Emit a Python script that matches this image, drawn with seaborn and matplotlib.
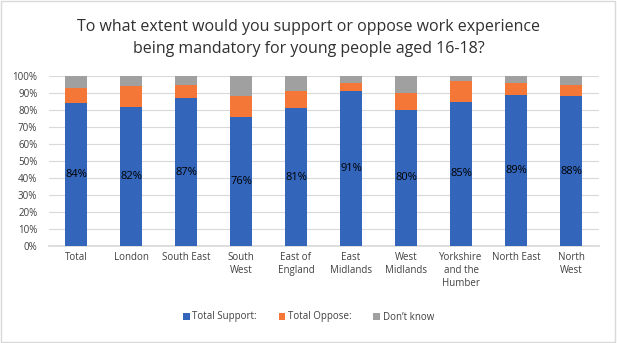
import numpy as np
import pandas as pd
import matplotlib
matplotlib.use("Agg")
import matplotlib.pyplot as plt
import seaborn as sns
from matplotlib.patches import Rectangle

categories = ["Total", "London", "South East", "South\nWest", "East of\nEngland",
              "East\nMidlands", "West\nMidlands", "Yorkshire\nand the\nHumber",
              "North East", "North\nWest"]
support = [84, 82, 87, 76, 81, 91, 80, 85, 89, 88]
oppose = [9, 12, 8, 12, 10, 5, 10, 12, 7, 6.5]
dont_know = [100 - s - o for s, o in zip(support, oppose)]

series_names = ["Total Support:", "Total Oppose:", "Don\u2019t know"]
colors = ["#3366BB", "#F47738", "#A0A0A0"]

sns.set_theme(style="white")
plt.rcParams['font.family'] = ['Open Sans', 'DejaVu Sans']

fig = plt.figure(figsize=(6.17, 3.43), dpi=100)
ax = fig.add_axes([48.5 / 617, 1 - 246 / 343, 550 / 617, 170 / 343])

df = pd.DataFrame({"cat": categories, "support": support,
                   "oppose": oppose, "dk": dont_know})
bottom1 = np.array(support, dtype=float)
bottom2 = bottom1 + np.array(oppose, dtype=float)

sns.barplot(data=df, x="cat", y="support", color=colors[0], width=0.4,
            ax=ax, saturation=1, label=series_names[0], zorder=3, linewidth=0)
sns.barplot(data=df, x="cat", y="oppose", color=colors[1], width=0.4,
            ax=ax, saturation=1, bottom=bottom1, label=series_names[1], zorder=3,
            linewidth=0)
sns.barplot(data=df, x="cat", y="dk", color=colors[2], width=0.4,
            ax=ax, saturation=1, bottom=bottom2, label=series_names[2], zorder=3,
            linewidth=0)

handles, labels = ax.get_legend_handles_labels()
if ax.get_legend() is not None:
    ax.get_legend().remove()

for i, s in enumerate(support):
    ax.text(i, s / 2, f"{s}%", ha="center", va="center", fontsize=8,
            color="black", zorder=4)

ax.set_ylim(0, 100)
ax.set_xlim(-0.5, len(categories) - 0.5)
ax.set_yticks(range(0, 101, 10))
ax.set_yticklabels([f"{v}%" for v in range(0, 101, 10)], fontsize=7, color="#404040")
ax.set_xticks(range(len(categories)))
ax.set_xticklabels(categories, fontsize=7, color="#404040", linespacing=1.25)
ax.tick_params(axis="y", length=0, pad=8)
ax.tick_params(axis="x", length=0, pad=4)
ax.set_xlabel("")
ax.set_ylabel("")
ax.grid(axis="y", color="#D9D9D9", linewidth=0.8, zorder=0)
ax.set_axisbelow(True)
for sp in ["top", "right", "left"]:
    ax.spines[sp].set_visible(False)
ax.spines["bottom"].set_color("#D9D9D9")

fig.text(0.5, 1 - 38 / 343,
         "To what extent would you support or oppose work experience\nbeing mandatory for young people aged 16-18?",
         ha="center", va="center", fontsize=11.5, color="#303030", linespacing=1.45)

fig.legend(handles, labels, loc="center", bbox_to_anchor=(0.5, 1 - 317 / 343),
           ncol=3, frameon=False, fontsize=7, handlelength=0.7, handleheight=0.7,
           columnspacing=2.2, handletextpad=0.3, labelcolor="#404040")

fig.patches.append(Rectangle((0.002, 0.003), 0.994, 0.994, transform=fig.transFigure,
                             fill=False, edgecolor="#D9D9D9", linewidth=1))

fig.savefig("out.png", dpi=100)
